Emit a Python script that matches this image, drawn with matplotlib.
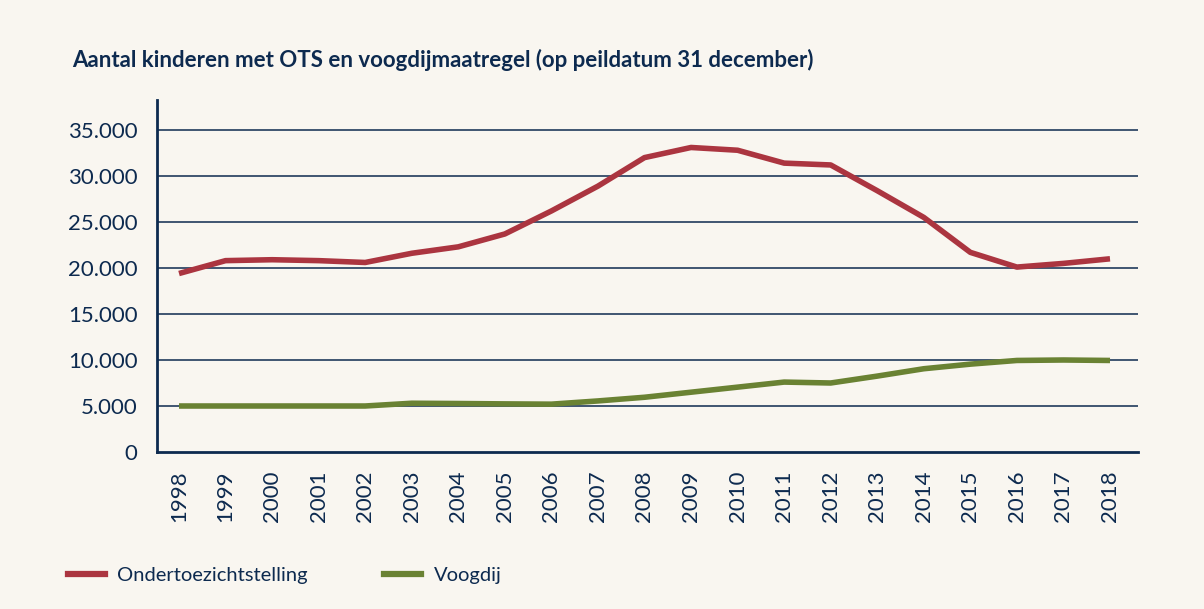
import numpy as np
import matplotlib.pyplot as plt
from matplotlib.lines import Line2D

years = list(range(1998, 2019))
ots = [19400, 20800, 20900, 20800, 20600, 21600, 22300, 23700, 26200, 28900,
       32000, 33100, 32800, 31400, 31200, 28400, 25500, 21700, 20100, 20500, 21000]
voogdij = [5000, 5000, 5000, 5000, 5000, 5300, 5270, 5230, 5200, 5550,
           5950, 6500, 7050, 7600, 7500, 8250, 9050, 9550, 9950, 10000, 9950]
y_ticks = [0, 5000, 10000, 15000, 20000, 25000, 30000, 35000]

navy = '#0d2a4f'
red = '#ab3540'
green = '#6a8233'
bg = '#f9f6f0'

plt.rcParams['font.family'] = ['Lato', 'DejaVu Sans']

fig = plt.figure(figsize=(12.04, 6.09), dpi=100, facecolor=bg)
ax = fig.add_axes([157 / 1204, 1 - 452 / 609, (1138 - 157) / 1204, (452 - 100) / 609])
ax.set_facecolor(bg)

for v in y_ticks[1:]:
    ax.axhline(v, color=navy, lw=1.1, zorder=1)

ax.plot(years, ots, color=red, lw=4, solid_capstyle='butt', zorder=3)
ax.plot(years, voogdij, color=green, lw=4, solid_capstyle='butt', zorder=3)

ax.set_xlim(1998 - 22 / 46.55, 2018 + 28 / 46.55)
ax.set_ylim(0, 452 / 46 * 5000 - 100 / 46 * 5000)
ax.set_yticks(y_ticks)
ax.set_yticklabels([f'{v:,}'.replace(',', '.') for v in y_ticks])
ax.set_xticks(years)
ax.set_xticklabels([str(y) for y in years], rotation=90)
ax.tick_params(axis='y', length=0, pad=14, labelsize=16, labelcolor=navy)
ax.tick_params(axis='x', length=0, pad=13, labelsize=16, labelcolor=navy)

for s in ['top', 'right']:
    ax.spines[s].set_visible(False)
for s in ['left', 'bottom']:
    ax.spines[s].set_color(navy)
    ax.spines[s].set_linewidth(2)

fig.text(72 / 1204, 1 - 60 / 609, 'Aantal kinderen met OTS en voogdijmaatregel (op peildatum 31 december)',
         weight='bold', fontsize=16, color=navy, va='center', ha='left')

handles = [Line2D([], [], color=red, lw=4.5), Line2D([], [], color=green, lw=4.5)]
fig.legend(handles, ['Ondertoezichtstelling', 'Voogdij'], loc='center left',
           bbox_to_anchor=(50 / 1204, 1 - 575 / 609), ncol=2, frameon=False,
           fontsize=14.5, labelcolor=navy, handlelength=1.84, handletextpad=0.6,
           columnspacing=3.8)

fig.savefig('out.png', dpi=100, facecolor=bg)
